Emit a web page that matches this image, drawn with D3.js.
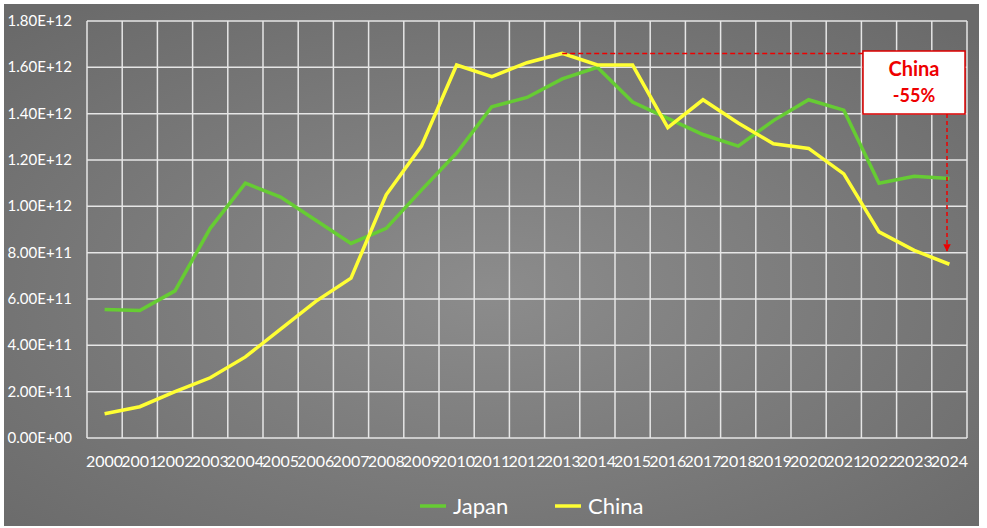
<!DOCTYPE html>
<html><head><meta charset="utf-8">
<script src="https://cdn.jsdelivr.net/npm/d3@7"></script>
<style>body{margin:0;background:#fff}</style>
</head><body>
<svg id="chart" width="987" height="528"></svg>
<script>
const years = d3.range(2000, 2025).map(String);
const japan = [0.555,0.55,0.635,0.905,1.10,1.04,0.94,0.84,0.905,1.07,1.23,1.43,1.47,1.55,1.60,1.45,1.38,1.31,1.26,1.37,1.46,1.415,1.10,1.13,1.12].map(v => v * 1e12);
const china = [0.105,0.135,0.20,0.26,0.35,0.47,0.59,0.69,1.05,1.26,1.61,1.56,1.62,1.66,1.61,1.61,1.34,1.46,1.36,1.27,1.25,1.14,0.89,0.81,0.75].map(v => v * 1e12);
const yTicks = d3.range(0, 1.81e12, 0.2e12);

const svg = d3.select("#chart");
const W = 987, H = 528;
const m = { top:21, left:87, right:20, bottom:90 };

const defs = svg.append("defs");
const grad = defs.append("radialGradient").attr("id", "bg").attr("cx", "50%").attr("cy", "55%").attr("r", "70%");
grad.append("stop").attr("offset", "0%").attr("stop-color", "#8c8c8c");
grad.append("stop").attr("offset", "100%").attr("stop-color", "#6a6a6a");
svg.append("rect").attr("x", 4).attr("y", 4).attr("width", W - 12).attr("height", H - 6).attr("fill", "url(#bg)");

const x = d3.scaleBand().domain(years).range([m.left, W - m.right]);
const y = d3.scaleLinear().domain([0, 1.8e12]).range([H - m.bottom, m.top]);
const cx = d => x(d) + x.bandwidth() / 2;

const grid = svg.append("g").attr("stroke", "#e6e6e6").attr("stroke-width", 1.5);
grid.selectAll("line.h").data(yTicks).enter().append("line")
  .attr("x1", m.left).attr("x2", W - m.right).attr("y1", d => y(d)).attr("y2", d => y(d));
grid.selectAll("line.v").data(d3.range(years.length + 1)).enter().append("line")
  .attr("x1", i => m.left + i * x.bandwidth()).attr("x2", i => m.left + i * x.bandwidth())
  .attr("y1", m.top).attr("y2", y(0));

svg.append("g").selectAll("text").data(yTicks).enter().append("text")
  .attr("x", 72).attr("y", d => y(d) + 5).attr("text-anchor", "end")
  .style("font", "15px Lato, sans-serif").style("fill", "#fff")
  .text(d => d === 0 ? "0.00E+00" : (d < 1e12 ? (d / 1e11).toFixed(2) + "E+11" : (d / 1e12).toFixed(2) + "E+12"));

svg.append("g").selectAll("text").data(years).enter().append("text")
  .attr("x", d => cx(d)).attr("y", 467).attr("text-anchor", "middle")
  .style("font", "16px Lato, sans-serif").style("fill", "#fff").text(d => d);

const line = d3.line().x((d, i) => cx(years[i])).y(d => y(d));
svg.append("path").datum(japan).attr("d", line).attr("fill", "none").attr("stroke", "#66cc33").attr("stroke-width", 3.5);
svg.append("path").datum(china).attr("d", line).attr("fill", "none").attr("stroke", "#ffff33").attr("stroke-width", 3.5);

// annotation
const peakX = cx("2013"), peakY = y(china[13]);
const boxX = 863, boxY = 51, boxW = 102, boxH = 63;
const arrowX = 947;
defs.append("marker").attr("id", "arr").attr("viewBox", "0 -5 10 10").attr("refX", 10)
  .attr("markerWidth", 5).attr("markerHeight", 5).attr("orient", "auto")
  .append("path").attr("d", "M0,-5L10,0L0,5Z").attr("fill", "#e00");
svg.append("line").attr("x1", peakX).attr("y1", peakY).attr("x2", boxX).attr("y2", peakY)
  .attr("stroke", "#e00").attr("stroke-width", 1.5).attr("stroke-dasharray", "5,3");
svg.append("line").attr("x1", arrowX).attr("y1", boxY + boxH).attr("x2", arrowX).attr("y2", y(0.8e12) - 1)
  .attr("stroke", "#e00").attr("stroke-width", 1.5).attr("stroke-dasharray", "4,3").attr("marker-end", "url(#arr)");
svg.append("rect").attr("x", boxX).attr("y", boxY).attr("width", boxW).attr("height", boxH)
  .attr("fill", "#fff").attr("stroke", "#d00").attr("stroke-width", 1.5);
svg.append("text").attr("x", boxX + boxW / 2).attr("y", boxY + 25).attr("text-anchor", "middle")
  .style("font", "bold 20px Lato, sans-serif").style("fill", "#e00").text("China");
svg.append("text").attr("x", boxX + boxW / 2).attr("y", boxY + 51).attr("text-anchor", "middle")
  .style("font", "bold 18px Lato, sans-serif").style("fill", "#e00").text("-55%");

// legend
const legend = [["Japan", "#66cc33", 420], ["China", "#ffff33", 555]];
legend.forEach(([name, col, lx]) => {
  svg.append("line").attr("x1", lx).attr("x2", lx + 26).attr("y1", 506).attr("y2", 506)
    .attr("stroke", col).attr("stroke-width", 3.5);
  svg.append("text").attr("x", lx + 33).attr("y", 514).style("font", "22px Lato, sans-serif")
    .style("fill", "#fff").text(name);
});
</script>
</body></html>
